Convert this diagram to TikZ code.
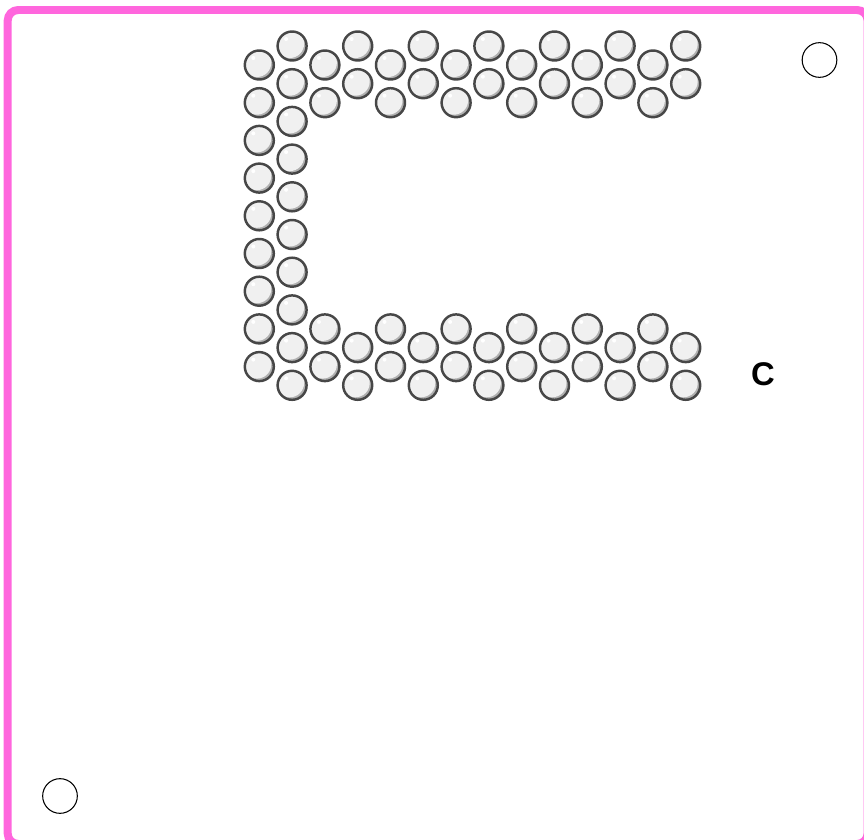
\documentclass[tikz,border=0pt]{standalone}
\usepackage{fontspec}
\setmainfont{Liberation Sans}
\usetikzlibrary{positioning}
\definecolor{framepink}{HTML}{FF66DD}
\definecolor{beadline}{HTML}{474747}
\definecolor{beadfill}{HTML}{F0F0F0}
\definecolor{beadshade}{HTML}{B0B0B0}

\begin{document}
\begin{tikzpicture}[x=0.03cm, y=-0.03cm,
    bead/.style={circle, draw=beadline, line width=2.1pt, fill=beadfill, minimum size=0.87cm, inner sep=0pt,
      path picture={
        \fill[beadshade] (path picture bounding box.center) circle (0.45cm);
        \fill[beadfill] ([shift={(-0.07cm,0.07cm)}]path picture bounding box.center) circle (0.43cm);
        \fill[white] ([shift={(-0.18cm,0.21cm)}]path picture bounding box.center) circle (0.06cm);
      }},
    hole/.style={circle, draw=black, line width=0.9pt, minimum size=1.04cm, inner sep=0pt}]
    \useasboundingbox (0,0) rectangle (864,840);
    \clip (0,0) rectangle (864,840);
    \draw[framepink, line width=6.8pt, rounded corners=9pt] (7.7,10) rectangle (867.6,844);

    % left wall of the C
    \foreach \j in {0,...,8} \node[bead] (b-0-\j) at (259.3, 65+37.7*\j) {};
    \foreach \j in {0,...,9} \node[bead] (b-1-\j) at (292.1, 46+37.7*\j) {};
    % top and bottom arms
    \foreach \i in {2,4,...,12} \foreach \j in {0,1,7,8}
      \node[bead] (b-\i-\j) at (259.3+32.8*\i, 65+37.7*\j) {};
    \foreach \i in {3,5,...,13} \foreach \j in {0,1,8,9}
      \node[bead] (b-\i-\j) at (259.3+32.8*\i, 46+37.7*\j) {};

    \node[hole] (hole-tr) at (819.5,60) {};
    \node[hole] (hole-bl) at (60,796) {};
    \node[font=\fontsize{28}{31}\selectfont\bfseries] (letter) at (763,374.5) {C};
\end{tikzpicture}
\end{document}
